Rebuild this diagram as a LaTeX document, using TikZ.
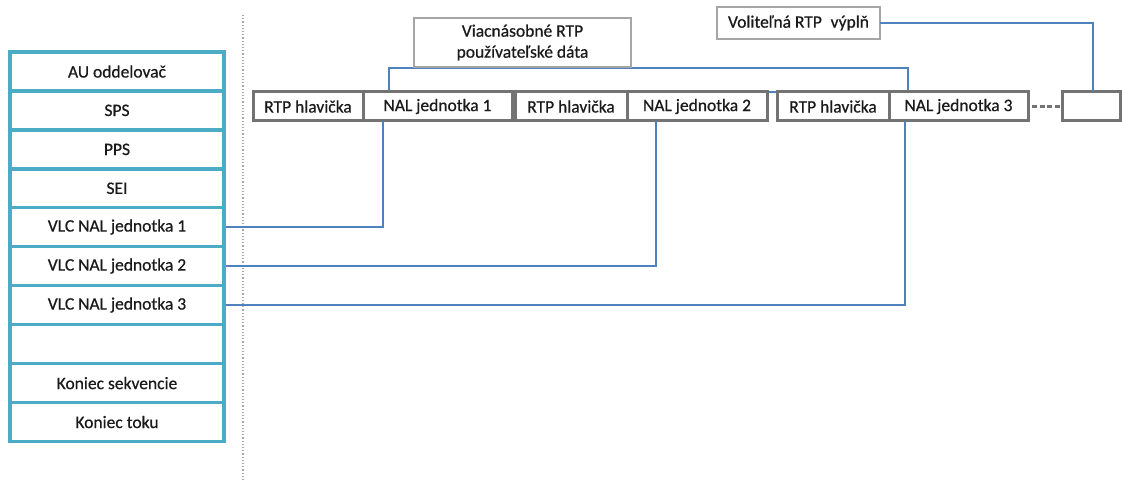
\documentclass[tikz,border=0pt]{standalone}
\usepackage{fontspec}
\setmainfont{Carlito}
\newfontfamily\lblfont{Carlito}[FakeBold=0.6]
\definecolor{colbd}{HTML}{4BACC6}
\definecolor{boxbd}{HTML}{737373}
\definecolor{lightbd}{HTML}{A6A6A6}
\definecolor{conncol}{HTML}{4F81BD}
\definecolor{txt}{HTML}{1A1A1A}
\begin{document}
\begin{tikzpicture}[x=1pt,y=-1pt,
  every node/.style={font=\lblfont\fontsize{17.5}{20}\selectfont, text=txt, inner sep=0pt, outer sep=0pt},
  colrow/.style={draw=colbd, line width=3.4pt, minimum width=214pt, minimum height=38.95pt},
  pkt/.style={draw=boxbd, line width=3pt, minimum height=29pt},
  lbox/.style={draw=lightbd, line width=1.2pt, fill=white, align=center},
  conn/.style={draw=conncol, line width=1.7pt}]
\useasboundingbox (0,0) rectangle (1122,481);
% dotted separator
\draw[lightbd, line width=1.2pt, dotted] (243,15) -- (243,481);
% left column
\node[colrow] (r1) at (117,71.5) {AU oddelovač};
\node[colrow] (r2) at (117,110.4) {SPS};
\node[colrow] (r3) at (117,149.4) {PPS};
\node[colrow] (r4) at (117,188.3) {SEI};
\node[colrow] (r5) at (117,227) {VLC NAL jednotka 1};
\node[colrow] (r6) at (117,266) {VLC NAL jednotka 2};
\node[colrow] (r7) at (117,305) {VLC NAL jednotka 3};
\node[colrow] (r8) at (117,344.1) {};
\node[colrow] (r9) at (117,383.1) {Koniec sekvencie};
\node[colrow] (r10) at (117,422) {Koniec toku};
% bracket behind packet boxes
\draw[conn] (389,68) rectangle (908,92);
% packet boxes
\node[pkt, minimum width=110pt] (h1) at (308,106.5) {RTP hlavička};
\node[pkt, minimum width=149pt] (n1) at (437.5,106.5) {NAL jednotka 1};
\node[pkt, minimum width=112pt] (h2) at (571,106.5) {RTP hlavička};
\node[pkt, minimum width=140pt] (n2) at (697,106.5) {NAL jednotka 2};
\node[pkt, minimum width=112pt] (h3) at (833,106.5) {RTP hlavička};
\node[pkt, minimum width=139pt] (n3) at (958.5,106.5) {NAL jednotka 3};
\node[pkt, minimum width=58pt] (last) at (1091,106.5) {};
\draw[boxbd, line width=2.2pt, dash pattern=on 5pt off 2.5pt] ([xshift=4pt]n3.east) -- (last.west);
% label boxes
\node[lbox, minimum width=217pt, minimum height=49pt] (multi) at (522.5,42.5) {Viacnásobné RTP\\[1pt]používateľské dáta};
\node[lbox, minimum width=163pt, minimum height=32pt] (vol) at (798.5,23) {Voliteľná RTP\hspace{0.5em}výplň};
% connectors
\draw[conn] (vol.east) -| ([xshift=2pt]last.north);
\draw[conn] ([xshift=20pt]n1.south west) |- ([xshift=1.7pt]r5.east);
\draw[conn] ([xshift=29pt]n2.south west) |- ([xshift=1.7pt]r6.east);
\draw[conn] ([xshift=16pt]n3.south west) |- ([xshift=1.7pt]r7.east);
\end{tikzpicture}
\end{document}
